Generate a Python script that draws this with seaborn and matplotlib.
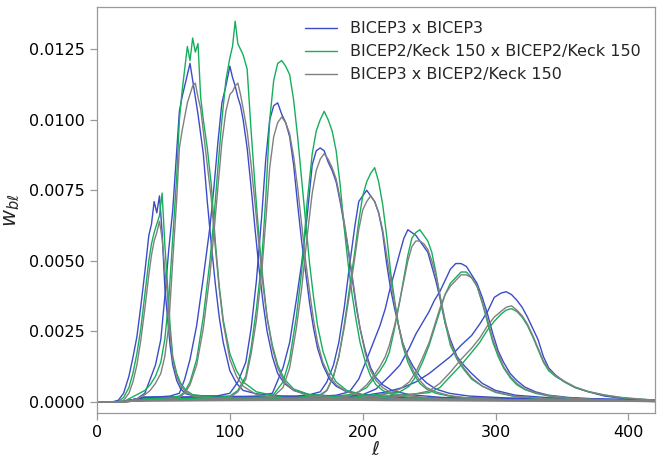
import matplotlib
matplotlib.use("Agg")
import numpy as np
import pandas as pd
import seaborn as sns
import matplotlib.pyplot as plt
from matplotlib.lines import Line2D
from matplotlib.ticker import FormatStrFormatter

# ---------------- data (window values in units of 1e-4) ----------------
series_names = ["BICEP3 x BICEP3",
                "BICEP2/Keck 150 x BICEP2/Keck 150",
                "BICEP3 x BICEP2/Keck 150"]
series_colors = ["#3b4cc8", "#16ae5c", "#808080"]

ell_1 = [0, 12, 16, 20, 24, 27, 30, 33, 36, 39, 41, 43, 45, 47, 49, 51, 53, 55, 57, 60, 63, 67, 72, 90, 140, 220, 420]
b3_1 = [0, 0, 0.5, 3, 9, 15.6, 23, 34, 46, 59, 63, 71, 67, 73, 60, 41, 30, 20, 13, 7.5, 4.5, 2.8, 2.2, 2, 1.5, 1, 0.4]
bk_1 = [0, 0, 0, 1.5, 5, 10, 17, 26, 38, 50, 56, 60, 63, 66, 74, 56, 42, 27, 16, 10, 6.5, 4, 2.5, 1.5, 1, 0.6, 0.2]
x_1 = [0, 0, 0, 0.5, 3, 7, 13, 22, 33, 45, 52, 57, 60, 64, 58, 47, 38, 24, 15, 9, 5.5, 3.5, 2, 1, 0.7, 0.4, 0.1]

ell_2 = [0, 20, 30, 36, 40, 44, 48, 51, 54, 57, 60, 62, 64, 66, 68, 70, 72, 74, 76, 78, 80, 83, 86, 89, 92, 95, 100, 105, 110, 120, 140, 200, 420]
b3_2 = [0, 0, 1, 3, 8, 13, 22, 37, 54, 68, 89, 103, 108, 112, 116, 120, 114, 108, 102, 95, 88, 71, 56, 42, 30, 21, 11, 6.5, 4, 2.8, 2, 1.2, 0.4]
bk_2 = [0, 0, 2.5, 4, 6, 9, 14, 22, 36, 58, 80, 100, 110, 118, 126, 121, 129, 124, 127, 108, 100, 90, 77, 57, 41, 29, 17, 11, 7, 3.5, 1.5, 0.8, 0.2]
x_2 = [0, 0, 1, 2.5, 4, 6.5, 10, 16, 27, 50, 72, 90, 96, 101, 106, 109, 112, 113, 108, 104, 96, 84, 72, 55, 40, 28, 15, 9, 5.5, 2.5, 1.2, 0.6, 0.1]

ell_3 = [0, 20, 40, 55, 62, 66, 70, 75, 80, 85, 88, 91, 94, 97, 100, 102, 104, 106, 108, 110, 113, 116, 119, 122, 125, 128, 132, 136, 141, 148, 160, 200, 420]
b3_3 = [0, 0, 1.5, 2, 3, 8, 15, 27, 44, 62, 76, 92, 106, 112, 119, 115, 112, 108, 105, 100, 90, 76, 61, 47, 35, 25, 16, 10, 6.5, 4, 2.5, 1.5, 0.4]
bk_3 = [0, 0, 1, 1.5, 2, 3.5, 7, 15, 30, 50, 65, 83, 100, 114, 122, 126, 135, 127, 125, 123, 118, 96, 76, 58, 43, 30, 20, 13, 8, 4.5, 2.5, 1, 0.2]
x_3 = [0, 0, 0.5, 1, 1.5, 3, 6, 13, 26, 45, 60, 76, 92, 103, 109, 110, 112, 113, 109, 104, 96, 84, 70, 55, 41, 30, 19, 12, 7, 4, 2, 0.8, 0.1]

ell_4 = [0, 20, 35, 60, 90, 100, 106, 112, 116, 120, 124, 127, 130, 133, 136, 139, 142, 145, 148, 151, 154, 157, 160, 163, 166, 170, 175, 180, 188, 200, 230, 420]
b3_4 = [0, 0, 1.5, 1.5, 2, 3, 7, 14, 26, 43, 66, 86, 100, 105, 106, 102, 99, 94, 84, 70, 57, 46, 35, 26, 19, 13, 8, 5.5, 3.5, 2.5, 1.5, 0.4]
bk_4 = [0, 0, 0.8, 1, 1.5, 2, 4, 9, 19, 33, 50, 72, 100, 114, 120, 121, 119, 116, 107, 94, 79, 64, 49, 37, 27, 18, 11, 7, 4, 2.5, 1, 0.2]
x_4 = [0, 0, 0.4, 0.5, 1, 1.5, 3.5, 8, 17, 29, 46, 64, 83, 94, 99, 101, 99, 95, 87, 76, 63, 50, 39, 29, 21, 14, 9, 6, 3.5, 2, 1, 0.1]

ell_5 = [0, 20, 35, 80, 120, 132, 140, 145, 150, 154, 158, 162, 165, 168, 171, 174, 177, 180, 183, 186, 189, 192, 195, 198, 202, 206, 210, 215, 222, 235, 260, 420]
b3_5 = [0, 0, 1.5, 1.5, 2, 3, 12, 21, 36, 49, 65, 84, 89, 90, 89, 85, 82, 78, 71, 63, 54, 44, 34, 26, 18, 12, 8.5, 6, 4, 2.5, 1.5, 0.4]
bk_5 = [0, 0, 0.8, 1, 1.5, 2, 7, 15, 30, 46, 70, 88, 96, 100, 103, 100, 96, 89, 77, 62, 49, 38, 29, 21, 14, 9, 6, 4, 2.5, 1.5, 0.8, 0.2]
x_5 = [0, 0, 0.4, 0.5, 1, 1.5, 5, 12, 26, 40, 58, 74, 82, 86, 88, 86, 83, 79, 72, 64, 55, 45, 35, 26, 17, 11, 7.5, 5, 3, 2, 1, 0.1]

ell_6 = [0, 20, 35, 100, 150, 160, 168, 173, 178, 182, 186, 190, 194, 197, 200, 203, 206, 209, 212, 215, 218, 221, 224, 227, 230, 234, 238, 243, 248, 255, 265, 280, 310, 420]
b3_6 = [0, 0, 1.5, 1.5, 2, 2.5, 3.5, 7, 13, 21, 33, 48, 62, 71, 73, 75, 73, 71, 67, 60, 49, 40, 33, 27, 21, 16, 12.5, 9, 6.7, 4.5, 3, 2, 1.3, 0.4]
bk_6 = [0, 0, 0.8, 1, 1.5, 2, 2.5, 4, 9, 16, 27, 40, 53, 64, 73, 78, 81, 83, 78, 70, 59, 46, 36, 27, 20, 14, 10, 6.5, 4.5, 3, 2, 1.2, 0.7, 0.2]
x_6 = [0, 0, 0.4, 0.5, 1, 1.5, 2, 4, 9, 16, 26, 38, 51, 61, 68, 71, 73, 71, 67, 61, 52, 43, 35, 27, 21, 15.5, 11, 7.5, 5, 3.5, 2.2, 1.3, 0.7, 0.1]

ell_7 = [0, 20, 35, 120, 170, 180, 190, 197, 203, 208, 213, 217, 220, 224, 228, 231, 234, 237, 240, 243, 246, 249, 252, 255, 258, 262, 266, 271, 276, 282, 290, 300, 315, 340, 420]
b3_7 = [0, 0, 1.5, 1.5, 2, 2.3, 3.5, 8, 15, 21, 27, 33, 39, 46, 53, 58, 61, 60, 59, 57, 55, 53, 48, 43, 37, 28, 22, 16, 13, 10, 6.5, 4, 2.3, 1.4, 0.5]
bk_7 = [0, 0, 0.8, 1, 1.5, 2, 2.5, 3.5, 5, 8, 11, 14, 17.5, 26, 36, 44, 52, 58, 60, 61, 59, 57, 53, 46, 38, 28, 20, 15, 11.5, 8, 5.5, 3.3, 1.8, 0.9, 0.2]
x_7 = [0, 0, 0.4, 0.5, 1, 1.5, 2, 3.5, 6, 9, 12.5, 16, 20, 27, 36, 43, 50, 55, 57, 57, 56, 54, 50, 45, 38, 29, 21, 15.5, 12, 8.5, 5.5, 3.5, 1.9, 1, 0.1]

ell_8 = [0, 20, 35, 150, 190, 200, 210, 220, 228, 235, 240, 245, 250, 254, 258, 262, 266, 270, 274, 278, 282, 286, 290, 294, 298, 302, 306, 311, 316, 322, 330, 340, 355, 375, 420]
b3_8 = [0, 0, 1.5, 1.5, 2, 2.5, 4.5, 9, 13, 19, 24, 28, 32, 36, 39, 43, 47, 49, 49, 48, 45, 42, 37, 31, 24, 18, 14, 10, 7.5, 5.2, 3.5, 2.3, 1.5, 1, 0.5]
bk_8 = [0, 0, 0.8, 1, 1.5, 2, 2.5, 3, 3.5, 5.5, 9, 14, 20, 26, 32, 38, 42, 44, 46, 46, 44, 41, 35, 28, 21, 16, 12, 8.5, 6, 4.3, 3, 2, 1.2, 0.7, 0.2]
x_8 = [0, 0, 0.4, 0.5, 1, 1.5, 2, 3, 4.5, 7, 10.5, 15.5, 21, 27, 33, 38, 41, 43, 45, 45, 44, 41, 35.5, 29, 22, 17, 12.5, 9, 6.5, 4.5, 3.2, 2.2, 1.3, 0.8, 0.1]

ell_9 = [0, 20, 35, 180, 205, 218, 230, 240, 250, 258, 266, 274, 282, 288, 294, 299, 304, 308, 312, 316, 320, 324, 328, 332, 336, 340, 345, 352, 360, 370, 382, 395, 410, 420]
b3_9 = [0, 0, 1.5, 1.5, 2.5, 3.5, 5, 7, 10, 13, 16, 20, 23.5, 27.5, 32, 37, 38.5, 39, 38, 36, 33.5, 30, 26, 22, 16, 12, 9.5, 7, 5, 3.5, 2, 1.2, 0.8, 0.6]
bk_9 = [0, 0, 0.8, 1, 1.5, 2, 2.5, 2.8, 3.2, 5, 9, 13, 17.5, 21, 25.5, 28.5, 31, 32.5, 33, 32, 30, 27, 23, 18.5, 14, 11, 9, 7, 5, 3.5, 2.3, 1.4, 0.8, 0.6]
x_9 = [0, 0, 0.4, 0.5, 1, 1.5, 2, 2.8, 3.8, 6.5, 10.5, 15, 19, 22.5, 27, 30, 32, 33.5, 34, 32.5, 30.5, 27.5, 23.5, 19, 14.5, 11.5, 9.3, 7.2, 5.2, 3.6, 2.4, 1.5, 0.9, 0.6]

x_ticks = [0, 100, 200, 300, 400]
y_ticks = [0.0, 0.0025, 0.0050, 0.0075, 0.0100, 0.0125]

# ---------------- build long table ----------------
bands = [(ell_1, b3_1, bk_1, x_1), (ell_2, b3_2, bk_2, x_2), (ell_3, b3_3, bk_3, x_3),
         (ell_4, b3_4, bk_4, x_4), (ell_5, b3_5, bk_5, x_5), (ell_6, b3_6, bk_6, x_6),
         (ell_7, b3_7, bk_7, x_7), (ell_8, b3_8, bk_8, x_8), (ell_9, b3_9, bk_9, x_9)]
rows = []
for bi, (ell, a, b, c) in enumerate(bands):
    for name, vals in zip(series_names, (a, b, c)):
        for l, v in zip(ell, vals):
            rows.append((bi, name, l, v * 1e-4))
df = pd.DataFrame(rows, columns=["band", "series", "ell", "w"])

# ---------------- plot ----------------
sns.set_style("ticks")
plt.rcParams["font.family"] = ["DejaVu Sans"]
plt.rcParams["mathtext.fontset"] = "dejavusans"

fig = plt.figure(figsize=(6.6, 4.58), dpi=100)
ax = fig.add_axes([0.147, 0.0983, 0.8454, 0.8864])

palette = dict(zip(series_names, series_colors))
sns.lineplot(data=df, x="ell", y="w", hue="series", units="band", estimator=None,
             sort=False, palette=palette, hue_order=series_names, linewidth=1.0,
             legend=False, ax=ax)

ax.set_xlim(0, 420)
ax.set_ylim(-0.0004, 0.0140)
ax.set_xticks(x_ticks)
ax.set_yticks(y_ticks)
ax.yaxis.set_major_formatter(FormatStrFormatter("%.4f"))
for s in ax.spines.values():
    s.set_visible(True)
    s.set_color("0.6")
    s.set_linewidth(0.9)
ax.tick_params(axis="both", direction="out", length=5, width=0.9, color="0.6",
               labelcolor="black", labelsize=11.5)
ax.set_xlabel(r"$\ell$", fontsize=14, va="top")
ax.xaxis.set_label_coords(0.5, -0.066)
ax.set_ylabel(r"$w_{b\ell}$", fontsize=15, labelpad=5)

handles = [Line2D([], [], color=c, lw=1.0) for c in series_colors]
ax.legend(handles, series_names, loc="upper right", frameon=False, fontsize=11.5)

fig.savefig("out.png", dpi=100)
